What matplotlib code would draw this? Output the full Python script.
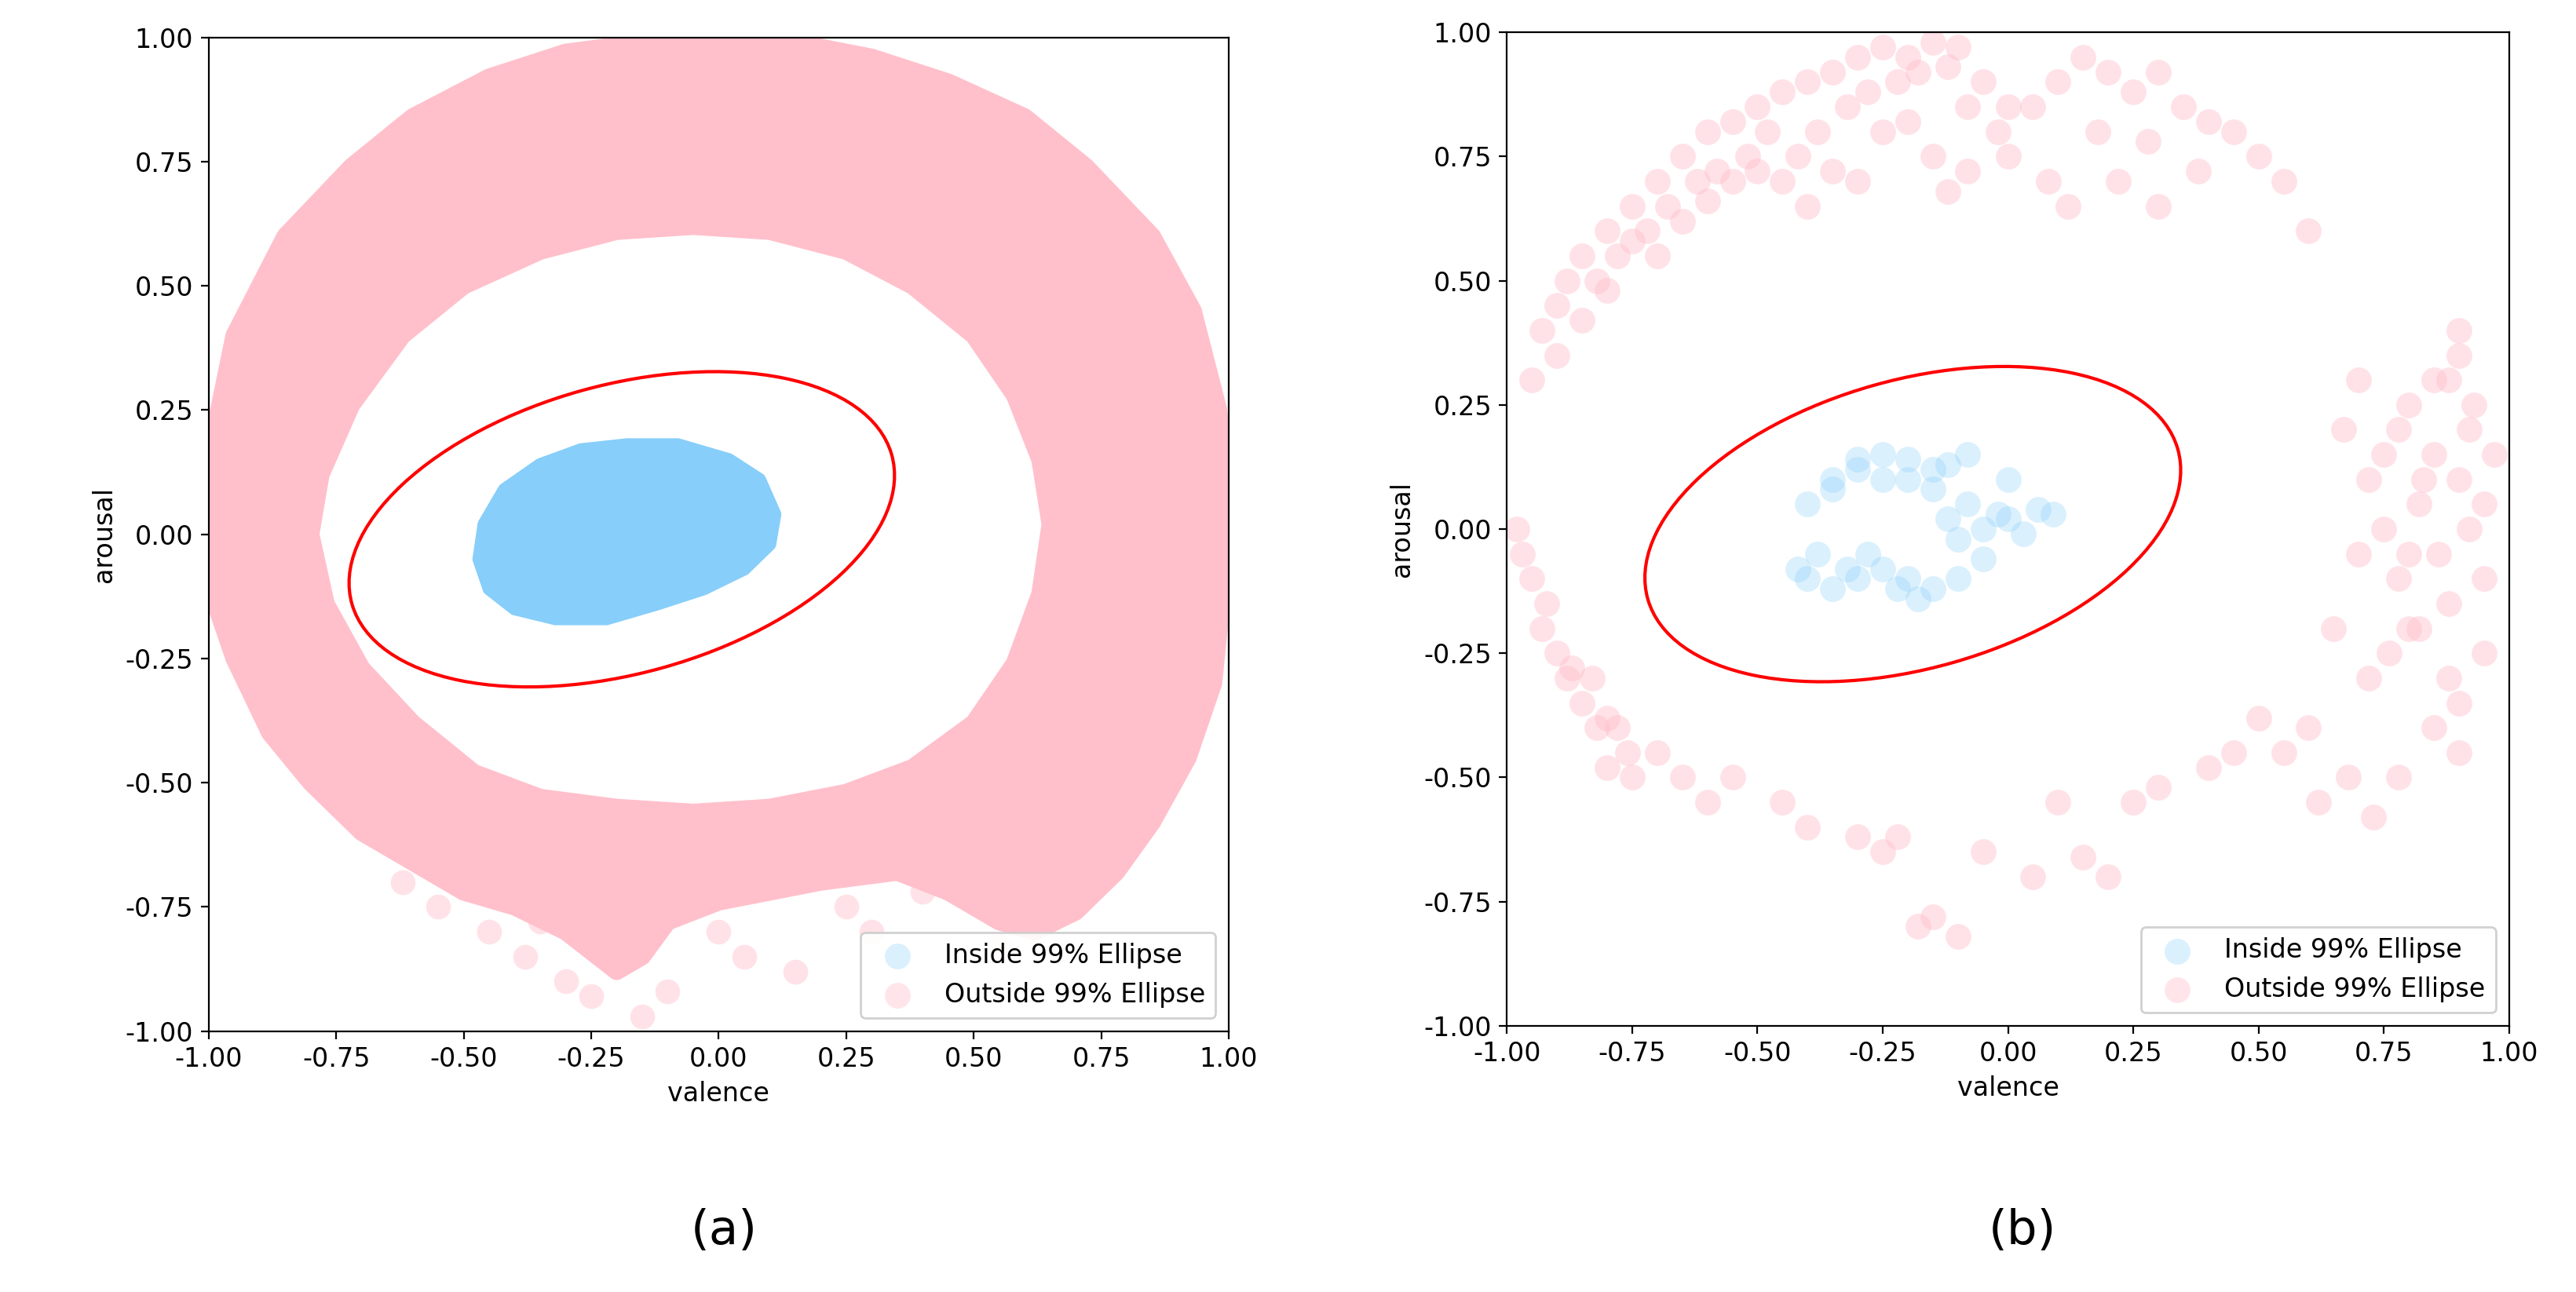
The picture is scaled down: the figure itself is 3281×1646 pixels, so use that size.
import matplotlib
matplotlib.use("Agg")
import matplotlib.pyplot as plt
from matplotlib.patches import Ellipse, Polygon, PathPatch
from matplotlib.path import Path

PINK = "#FFC0CB"; BLUE = "#87CEFA"
ell_center = (-0.19, 0.01); ell_w = 1.1; ell_h = 0.58; ell_angle = 16

a_outer_x = [-1.0,-1.0,-0.95,-0.85,-0.72,-0.6,-0.45,-0.3,-0.15,0.0,0.15,0.3,0.45,0.6,0.72,0.85,0.93,0.98,1.0,0.99,0.97,0.92,0.85,0.78,0.7,0.62,0.55,0.45,0.35,0.2,0.1,0.0,-0.1,-0.15,-0.2,-0.25,-0.3,-0.4,-0.5,-0.6,-0.7,-0.8,-0.88,-0.95]
a_outer_y = [-0.1,0.15,0.4,0.6,0.74,0.84,0.92,0.97,0.99,1.0,0.99,0.96,0.91,0.84,0.74,0.6,0.45,0.25,0.05,-0.1,-0.3,-0.45,-0.58,-0.68,-0.76,-0.8,-0.78,-0.72,-0.68,-0.7,-0.72,-0.74,-0.78,-0.85,-0.88,-0.84,-0.8,-0.75,-0.72,-0.66,-0.6,-0.5,-0.4,-0.25]
a_inner_x = [-0.8,-0.78,-0.72,-0.62,-0.5,-0.35,-0.2,-0.05,0.1,0.25,0.38,0.5,0.58,0.63,0.65,0.63,0.58,0.5,0.38,0.25,0.1,-0.05,-0.2,-0.35,-0.48,-0.6,-0.7,-0.77]
a_inner_y = [0.0,0.12,0.26,0.4,0.5,0.57,0.61,0.62,0.61,0.57,0.5,0.4,0.28,0.15,0.02,-0.12,-0.26,-0.38,-0.47,-0.52,-0.55,-0.56,-0.55,-0.53,-0.48,-0.38,-0.27,-0.14]
a_blue_x = [-0.47,-0.46,-0.42,-0.35,-0.27,-0.18,-0.08,0.02,0.08,0.11,0.1,0.05,-0.03,-0.12,-0.22,-0.32,-0.4,-0.45]
a_blue_y = [-0.05,0.02,0.09,0.14,0.17,0.18,0.18,0.15,0.11,0.04,-0.02,-0.07,-0.11,-0.14,-0.17,-0.17,-0.15,-0.11]
a_sparse_x = [-0.45,-0.38,-0.3,-0.25,-0.15,-0.1,0.05,0.15,0.25,0.4,0.55,-0.55,-0.62,-0.35,-0.2,0.0,0.3]
a_sparse_y = [-0.8,-0.85,-0.9,-0.93,-0.97,-0.92,-0.85,-0.88,-0.75,-0.72,-0.83,-0.75,-0.7,-0.78,-0.82,-0.8,-0.8]

b_out_x = [-0.95,-0.93,-0.9,-0.88,-0.85,-0.82,-0.8,-0.78,-0.75,-0.72,-0.7,-0.68,-0.65,-0.62,-0.6,-0.58,-0.55,-0.52,-0.5,-0.48,-0.45,-0.42,-0.4,-0.38,-0.35,-0.32,-0.3,-0.28,-0.25,-0.22,-0.2,-0.18,-0.15,-0.12,-0.1,-0.08,-0.05,-0.02,0.0,0.05,0.1,0.15,0.18,0.2,0.25,0.28,0.3,0.35,0.4,0.45,0.5,0.55,0.6,
             -0.9,-0.85,-0.8,-0.75,-0.7,-0.65,-0.6,-0.55,-0.5,-0.45,-0.4,-0.35,-0.3,-0.25,-0.2,-0.15,-0.12,-0.08,0.0,0.08,0.12,0.22,0.3,0.38,
             0.7,0.72,0.75,0.78,0.8,0.82,0.85,0.88,0.9,0.92,0.95,0.97,0.75,0.8,0.85,0.9,0.93,0.78,0.83,0.88,0.92,0.95,0.8,0.86,0.9,0.72,0.76,0.82,0.88,0.9,0.67,0.7,0.65,0.6,0.62,0.68,0.73,0.78,0.85,0.9,0.95,
             -0.98,-0.97,-0.95,-0.93,-0.9,-0.88,-0.85,-0.83,-0.8,-0.78,-0.76,-0.92,-0.87,-0.82,-0.8,-0.75,-0.7,-0.65,-0.6,-0.55,
             -0.45,-0.4,-0.3,-0.25,-0.22,-0.18,-0.15,-0.1,-0.05,0.05,0.1,0.15,0.2,0.25,0.3,0.4,0.45,0.5,0.55]
b_out_y = [0.3,0.4,0.45,0.5,0.55,0.5,0.6,0.55,0.65,0.6,0.7,0.65,0.75,0.7,0.8,0.72,0.82,0.75,0.85,0.8,0.88,0.75,0.9,0.8,0.92,0.85,0.95,0.88,0.97,0.9,0.95,0.92,0.98,0.93,0.97,0.85,0.9,0.8,0.75,0.85,0.9,0.95,0.8,0.92,0.88,0.78,0.92,0.85,0.82,0.8,0.75,0.7,0.6,
             0.35,0.42,0.48,0.58,0.55,0.62,0.66,0.7,0.72,0.7,0.65,0.72,0.7,0.8,0.82,0.75,0.68,0.72,0.85,0.7,0.65,0.7,0.65,0.72,
             0.3,0.1,0.0,0.2,0.25,0.05,0.15,0.3,0.1,0.2,0.05,0.15,0.15,-0.05,0.3,0.4,0.25,-0.1,0.1,-0.15,0.0,-0.1,-0.2,-0.05,0.35,-0.3,-0.25,-0.2,-0.3,-0.45,0.2,-0.05,-0.2,-0.4,-0.55,-0.5,-0.58,-0.5,-0.4,-0.35,-0.25,
             0.0,-0.05,-0.1,-0.2,-0.25,-0.3,-0.35,-0.3,-0.38,-0.4,-0.45,-0.15,-0.28,-0.4,-0.48,-0.5,-0.45,-0.5,-0.55,-0.5,
             -0.55,-0.6,-0.62,-0.65,-0.62,-0.8,-0.78,-0.82,-0.65,-0.7,-0.55,-0.66,-0.7,-0.55,-0.52,-0.48,-0.45,-0.38,-0.45]
b_in_x = [-0.42,-0.4,-0.38,-0.35,-0.32,-0.3,-0.28,-0.25,-0.22,-0.2,-0.35,-0.3,-0.25,-0.2,-0.15,-0.4,-0.35,-0.3,-0.25,-0.2,-0.15,-0.12,-0.1,-0.08,-0.05,-0.02,0.0,0.03,0.06,0.09,-0.15,-0.1,-0.05,0.0,-0.12,-0.08,-0.18]
b_in_y = [-0.08,-0.1,-0.05,-0.12,-0.08,-0.1,-0.05,-0.08,-0.12,-0.1,0.08,0.12,0.1,0.14,0.12,0.05,0.1,0.14,0.15,0.1,0.08,0.02,-0.02,0.05,0.0,0.03,0.02,-0.01,0.04,0.03,-0.12,-0.1,-0.06,0.1,0.13,0.15,-0.14]

ticks = [-1.0,-0.75,-0.5,-0.25,0.0,0.25,0.5,0.75,1.0]

fig = plt.figure(figsize=(16.405, 8.23), dpi=200)
axA = fig.add_axes([0.081, 0.202, 0.396, 0.769])
axB = fig.add_axes([0.585, 0.206, 0.389, 0.769])

outer = list(zip(a_outer_x, a_outer_y))
inner = list(zip(a_inner_x, a_inner_y))[::-1]
verts = outer + [outer[0]] + inner + [inner[0]]
codes = [Path.MOVETO] + [Path.LINETO]*(len(outer)-1) + [Path.CLOSEPOLY] \
      + [Path.MOVETO] + [Path.LINETO]*(len(inner)-1) + [Path.CLOSEPOLY]
axA.add_patch(PathPatch(Path(verts, codes), fc=PINK, ec=PINK, lw=8, joinstyle="round"))
axA.scatter(a_sparse_x, a_sparse_y, s=130, color=PINK, alpha=0.45, lw=0)
axA.add_patch(Polygon(list(zip(a_blue_x, a_blue_y)), closed=True, fc=BLUE, ec=BLUE, lw=6, joinstyle="round"))
axB.scatter(b_out_x, b_out_y, s=140, color=PINK, alpha=0.45, lw=0)
axB.scatter(b_in_x, b_in_y, s=140, color=BLUE, alpha=0.3, lw=0)

for ax in (axA, axB):
    ax.add_patch(Ellipse(ell_center, ell_w, ell_h, angle=ell_angle, fill=False, ec="red", lw=1.5))
    ax.set_xlim(-1, 1); ax.set_ylim(-1, 1)
    ax.set_xticks(ticks); ax.set_yticks(ticks)
    ax.set_xticklabels([f"{t:.2f}" for t in ticks]); ax.set_yticklabels([f"{t:.2f}" for t in ticks])
    ax.tick_params(labelsize=12)
    ax.set_xlabel("valence", fontsize=12); ax.set_ylabel("arousal", fontsize=12)
    h1 = ax.scatter([], [], s=140, color=BLUE, alpha=0.3, lw=0, label="Inside 99% Ellipse")
    h2 = ax.scatter([], [], s=140, color=PINK, alpha=0.4, lw=0, label="Outside 99% Ellipse")
    ax.legend(handles=[h1, h2], loc="lower right", fontsize=12, framealpha=0.9)

fig.text(0.281, 0.047, "(a)", fontsize=22, ha="center", va="center")
fig.text(0.785, 0.047, "(b)", fontsize=22, ha="center", va="center")
fig.savefig("out.png", dpi=200)
